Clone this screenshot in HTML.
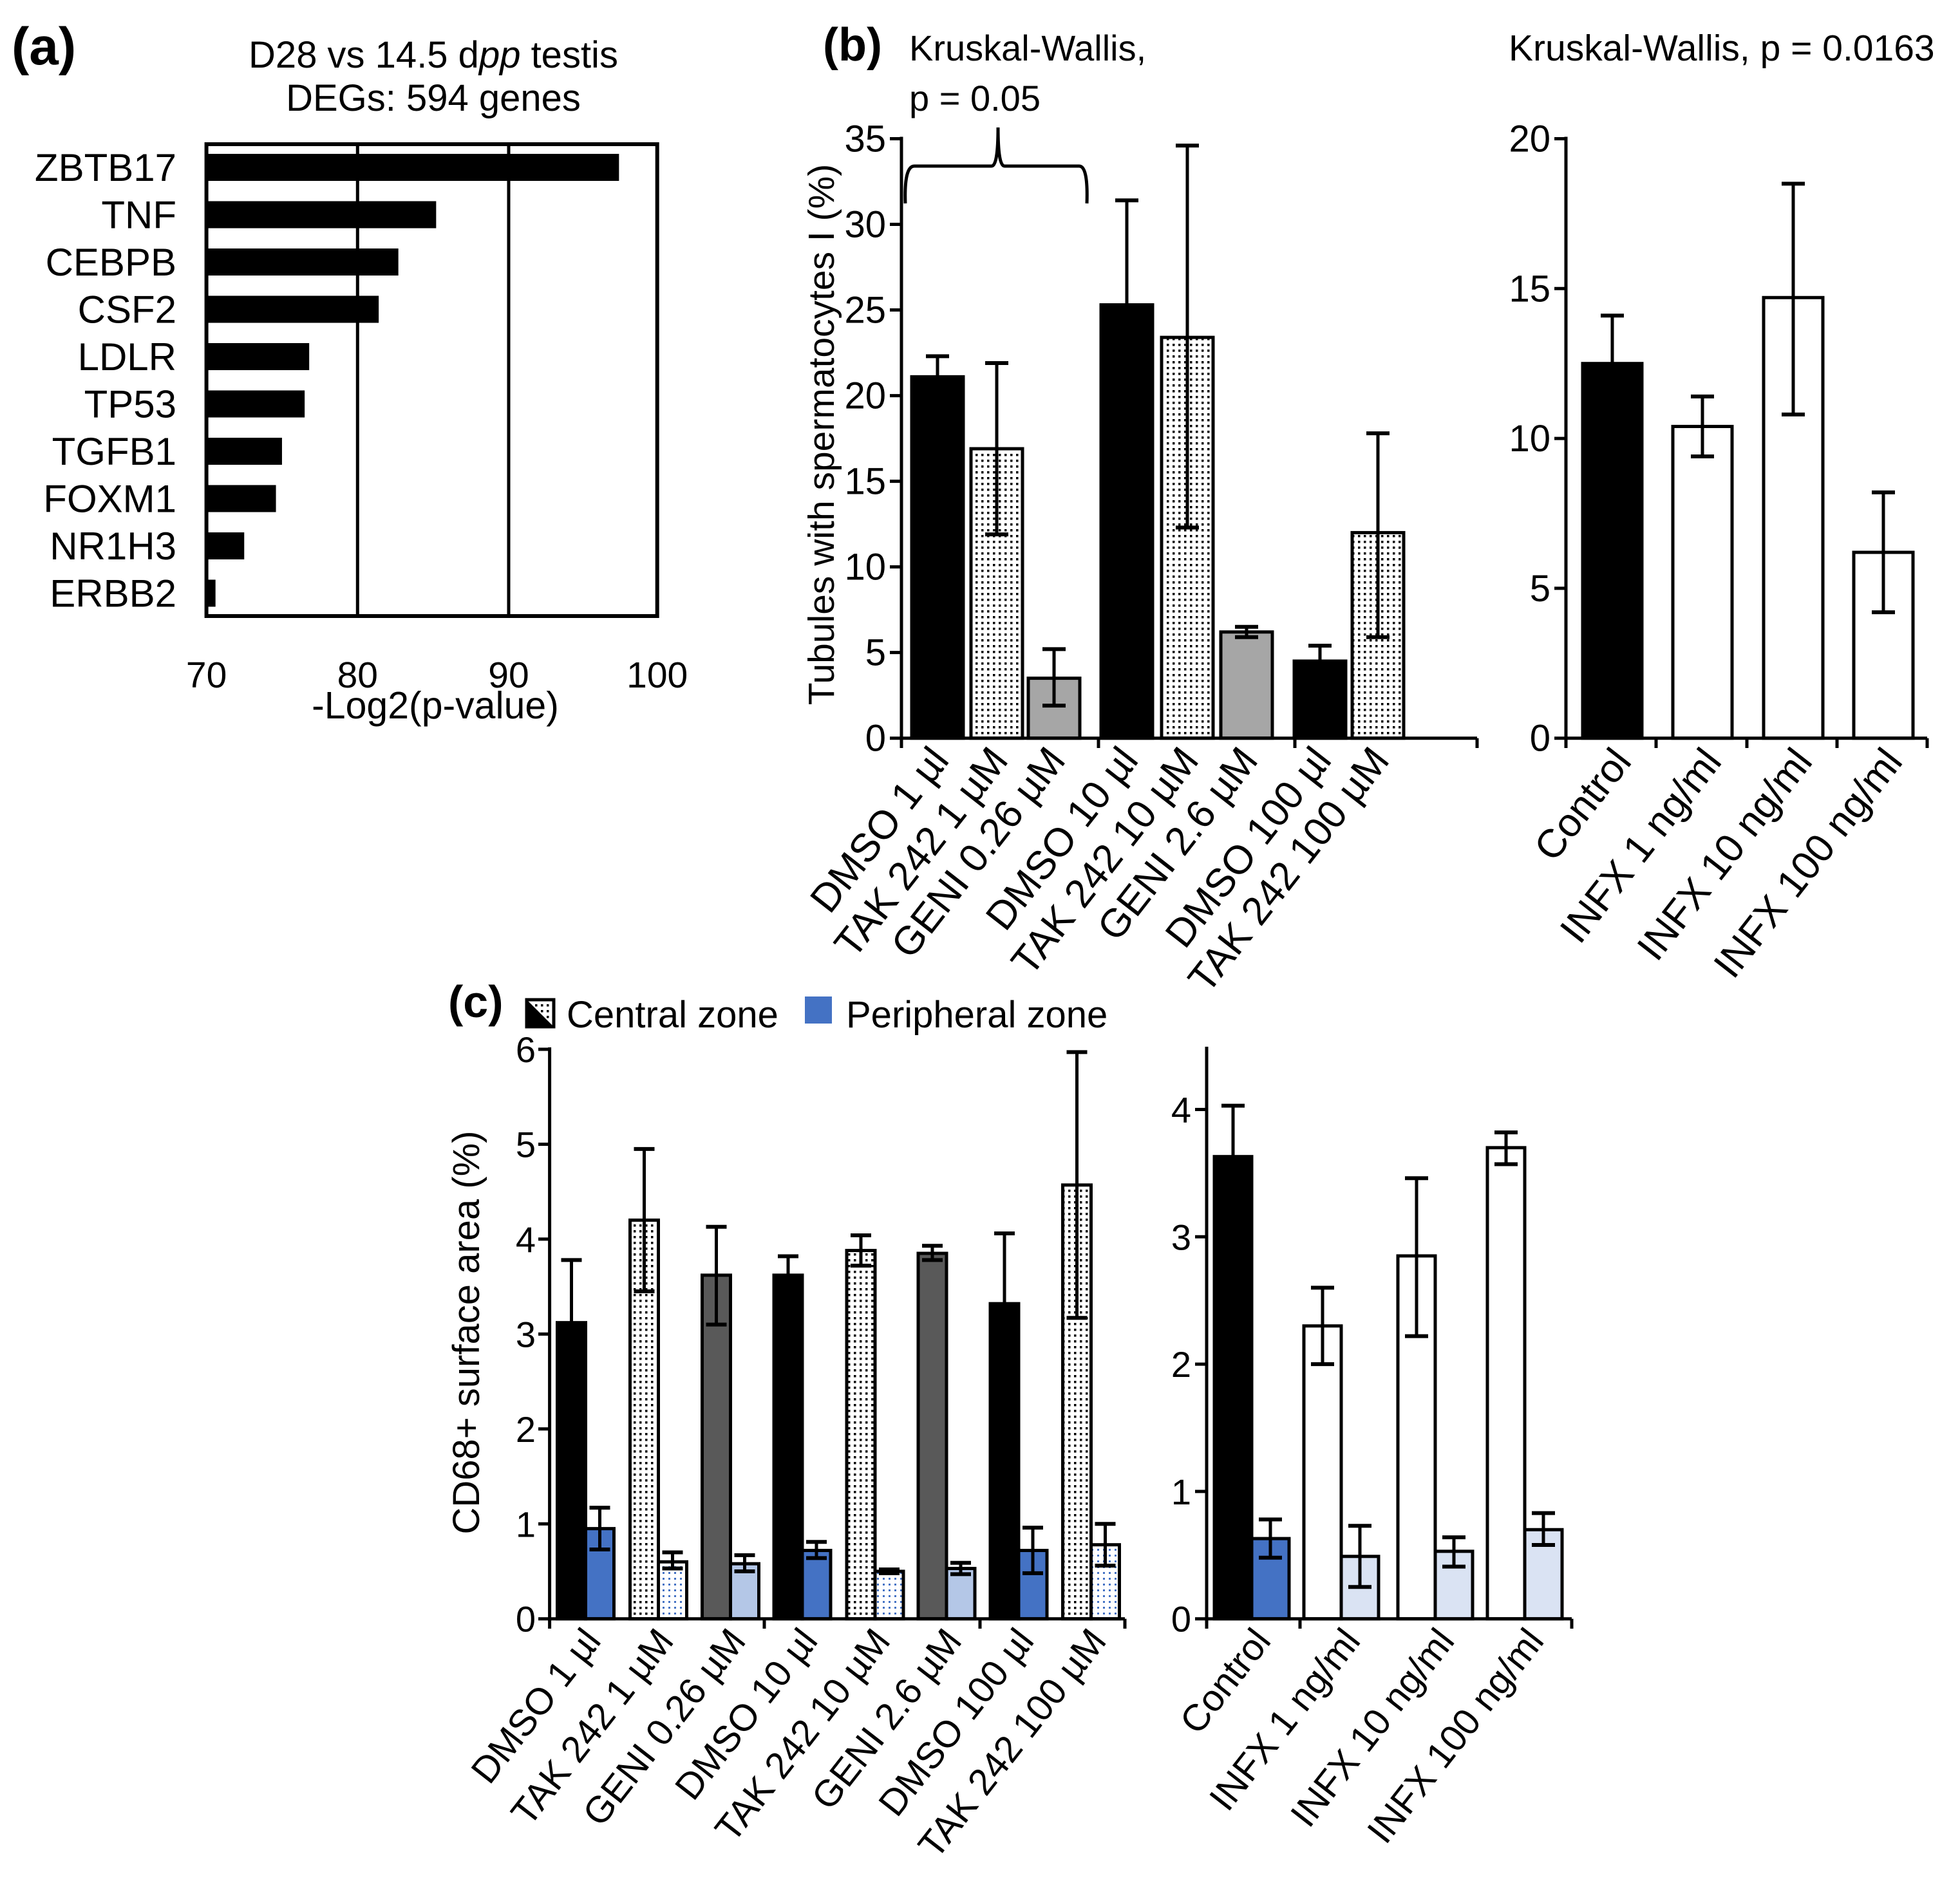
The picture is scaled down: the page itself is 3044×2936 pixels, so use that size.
<!DOCTYPE html>
<html><head><meta charset="utf-8">
<style>
html,body{margin:0;padding:0;background:#fff;}
svg{display:block;}
text{font-family:"Liberation Sans",sans-serif;fill:#000;}
.n{font-family:"Liberation Sans Narrow","Liberation Sans",sans-serif;}
</style></head>
<body>
<svg id="fig" xmlns="http://www.w3.org/2000/svg" width="3044" height="2936" viewBox="0 0 3044 2936">
<defs>
<pattern id="dots" width="9" height="9" patternUnits="userSpaceOnUse"><rect width="9" height="9" fill="#fff"/><rect x="3" y="3" width="3.5" height="3.5" fill="#000"/></pattern>
<pattern id="bdots" width="9" height="9" patternUnits="userSpaceOnUse"><rect width="9" height="9" fill="#fff"/><rect x="3" y="3" width="3" height="3" fill="#4472c4"/></pattern>
</defs>
<g id="root"></g>
</svg>
<script>
// ---- data panel (a)
const aGenes=["ZBTB17","TNF","CEBPB","CSF2","LDLR","TP53","TGFB1","FOXM1","NR1H3","ERBB2"];
const aValues=[97.3,85.2,82.7,81.4,76.8,76.5,75.0,74.6,72.5,70.6];
const aTicks=[70,80,90,100];
// ---- panel (b) left
const bCats=["DMSO 1 µl","TAK 242 1 µM","GENI 0.26 µM","DMSO 10 µl","TAK 242 10 µM","GENI 2.6 µM","DMSO 100 µl","TAK 242 100 µM"];
const bVals=[21.1,16.9,3.5,25.3,23.4,6.2,4.5,12.0];
const bLo=[19.9,11.9,1.9,19.2,12.3,5.9,3.6,5.9];
const bHi=[22.3,21.9,5.2,31.4,34.6,6.5,5.4,17.8];
const bTicks=[0,5,10,15,20,25,30,35];
// ---- panel (b) right
const brCats=["Control","INFX 1 ng/ml","INFX 10 ng/ml","INFX 100 ng/ml"];
const brVals=[12.5,10.4,14.7,6.2];
const brLo=[10.9,9.4,10.8,4.2];
const brHi=[14.1,11.4,18.5,8.2];
const brTicks=[0,5,10,15,20];
// ---- panel (c) left
const cCats=["DMSO 1 µl","TAK 242 1 µM","GENI 0.26 µM","DMSO 10 µl","TAK 242 10 µM","GENI 2.6 µM","DMSO 100 µl","TAK 242 100 µM"];
const cCentral=[3.12,4.2,3.62,3.62,3.88,3.85,3.32,4.57];
const cCentralLo=[2.46,3.45,3.1,3.42,3.72,3.78,2.58,3.17];
const cCentralHi=[3.78,4.95,4.13,3.82,4.04,3.93,4.06,5.97];
const cPeriph=[0.95,0.6,0.58,0.72,0.5,0.53,0.72,0.78];
const cPeriphLo=[0.73,0.53,0.5,0.64,0.48,0.47,0.48,0.56];
const cPeriphHi=[1.17,0.7,0.67,0.81,0.52,0.59,0.96,1.0];
const cTicks=[0,1,2,3,4,5,6];
// ---- panel (c) right
const crCats=["Control","INFX 1 ng/ml","INFX 10 ng/ml","INFX 100 ng/ml"];
const crCentral=[3.63,2.3,2.85,3.7];
const crCentralLo=[3.23,2.0,2.22,3.57];
const crCentralHi=[4.03,2.6,3.46,3.82];
const crPeriph=[0.63,0.49,0.53,0.7];
const crPeriphLo=[0.48,0.25,0.41,0.58];
const crPeriphHi=[0.78,0.73,0.64,0.83];
const crTicks=[0,1,2,3,4];

const NS="http://www.w3.org/2000/svg";
const root=document.getElementById('root');
function mk(tag,attrs,parent,txt){const e=document.createElementNS(NS,tag);for(const k in attrs)e.setAttribute(k,attrs[k]);if(txt!==undefined)e.textContent=txt;(parent||root).appendChild(e);return e;}
function line(x1,y1,x2,y2,w,p){return mk('line',{x1,y1,x2,y2,stroke:'#000','stroke-width':w||5},p);}
function errbar(g,cx,ylo,yhi,cap){line(cx,ylo,cx,yhi,5,g);line(cx-cap,yhi,cx+cap,yhi,6,g);line(cx-cap,ylo,cx+cap,ylo,6,g);}

// ================= Panel a
(function(){
 const g=mk('g',{});
 
 
 const x=v=>320.6+(v-70)*23.47;
 let t=mk('text',{x:18,y:100,'font-size':82,'font-weight':'bold'},g,'(a)');
 
 t=mk('text',{x:673,y:105,'font-size':58,'text-anchor':'middle'},g);
 
 t.innerHTML='D28 vs 14.5 d<tspan font-style="italic">pp</tspan> testis';
 t=mk('text',{x:673,y:172,'font-size':58,'text-anchor':'middle'},g,'DEGs: 594 genes');
 
 aValues.forEach((v,i)=>{
   const cy=260+i*73.5;
   const r=mk('rect',{x:x(70),y:cy-21,width:x(v)-x(70),height:42,fill:'#000'},g);
   
   const l=mk('text',{x:274,y:cy+21,'font-size':60,'text-anchor':'end'},g,aGenes[i]);
   
 });
 [80,90].forEach(v=>line(x(v),224,x(v),957,5,g));
 const b=mk('rect',{x:320.6,y:224,width:x(100)-4-320.6,height:733,fill:'none',stroke:'#000','stroke-width':6},g);
 
 aTicks.forEach(v=>{const tl=mk('text',{x:x(v)+(v===100?-4:0),y:1068,'font-size':57,'text-anchor':'middle'},g,String(v));
   });
 t=mk('text',{x:676,y:1116,'font-size':59,'text-anchor':'middle'},g,'-Log2(p-value)');
 
})();

// ================= Panel b left
(function(){
 const g=mk('g',{});
 
 
 const y0=1146.7,per=(1146.7-215.5)/35;const y=v=>y0-v*per;
 const centers=[1456,1548,1637,1750,1844,1936,2050,2140];const w=80;
 const fills=['#000','url(#dots)','#a6a6a6','#000','url(#dots)','#a6a6a6','#000','url(#dots)'];
 let t=mk('text',{x:1278,y:94,'font-size':72,'font-weight':'bold'},g,'(b)');
 
 t=mk('text',{x:1412,y:94,'font-size':56,'class':'n'},g,'Kruskal-Wallis,');
 
 t=mk('text',{x:1412,y:172,'font-size':56,'class':'n'},g,'p = 0.05');
 
 const br=mk('path',{d:'M1406,316 Q1404,258 1420,258 L1540,258 Q1550,258 1550,198 Q1550,258 1560,258 L1676,258 Q1690,258 1688,316',fill:'none',stroke:'#000','stroke-width':5},g);
 
 bVals.forEach((v,i)=>{
   const r=mk('rect',{x:centers[i]-w/2,y:y(v),width:w,height:y0-y(v),fill:fills[i],stroke:'#000','stroke-width':5},g);
   
   errbar(g,centers[i],y(bLo[i]),y(bHi[i]),18);
   const l=mk('text',{x:centers[i]+20,y:1182,'font-size':62,'class':'n','text-anchor':'end',transform:`rotate(-52 ${centers[i]+20} 1182)`},g,bCats[i]);
   
 });
 line(1400,y(35)-3,1400,y0+3,5,g);
 line(1400,y0,2294,y0,5,g);
 [1400,1706,2011,2294].forEach(x=>line(x,y0,x,1162,5,g));
 bTicks.forEach(v=>{line(1382,y(v),1400,y(v),5,g);
   const tl=mk('text',{x:1376,y:y(v)+20,'font-size':58,'class':'n','text-anchor':'end'},g,String(v));
   });
 t=mk('text',{x:0,y:0,'font-size':57,'text-anchor':'middle','class':'n',transform:'translate(1295,675) rotate(-90)'},g,'Tubules with spermatocytes I (%)');
 
})();

// ================= Panel b right
(function(){
 const g=mk('g',{});
 
 
 const y0=1146.7,per=(1146.7-215.5)/20;const y=v=>y0-v*per;
 const centers=[2504,2644,2785,2925];const w=92;
 const fills=['#000','#fff','#fff','#fff'];
 let t=mk('text',{x:2343,y:94,'font-size':57,'class':'n'},g,'Kruskal-Wallis, p = 0.0163');
 
 brVals.forEach((v,i)=>{
   const r=mk('rect',{x:centers[i]-w/2,y:y(v),width:w,height:y0-y(v),fill:fills[i],stroke:'#000','stroke-width':5},g);
   
   errbar(g,centers[i],y(brLo[i]),y(brHi[i]),18);
   const l=mk('text',{x:centers[i]+32,y:1184,'font-size':62,'class':'n','text-anchor':'end',transform:`rotate(-52 ${centers[i]+32} 1184)`},g,brCats[i]);
   
 });
 line(2432,y(20)-3,2432,y0+3,5,g);
 line(2432,y0,2993,y0,5,g);
 [2432,2572,2713,2853,2993].forEach(x=>line(x,y0,x,1162,5,g));
 brTicks.forEach(v=>{line(2414,y(v),2432,y(v),5,g);
   const tl=mk('text',{x:2408,y:y(v)+20,'font-size':58,'class':'n','text-anchor':'end'},g,String(v));
   });
})();

// ================= Panel c legend
(function(){
 const g=mk('g',{});
 
 
 let t=mk('text',{x:696,y:1580,'font-size':70,'font-weight':'bold'},g,'(c)');
 
 const sw=mk('rect',{x:818,y:1553,width:42,height:42,fill:'url(#dots)',stroke:'#000','stroke-width':5},g);
 
 mk('path',{d:'M818,1553 L860,1595 L818,1595 Z',fill:'#000'},g);
 t=mk('text',{x:880,y:1596,'font-size':58},g,'Central zone');
 
 const s2=mk('rect',{x:1250,y:1548,width:42,height:42,fill:'#4472c4'},g);
 
 t=mk('text',{x:1314,y:1596,'font-size':58},g,'Peripheral zone');
 
})();

// ================= Panel c left
(function(){
 const g=mk('g',{});
 
 
 const y0=2514.7,per=(2514.7-1630)/6;const y=v=>y0-v*per;
 const centers=[909.5,1022.5,1134.5,1246,1359,1470,1582,1694.5];const w=44;
 const cf=['#000','url(#dots)','#595959','#000','url(#dots)','#595959','#000','url(#dots)'];
 const pf=['#4472c4','url(#bdots)','#b4c7e7','#4472c4','url(#bdots)','#b4c7e7','#4472c4','url(#bdots)'];
 cCentral.forEach((v,i)=>{
   const cx=centers[i]-w/2;
   const r=mk('rect',{x:cx-w/2,y:y(v),width:w,height:y0-y(v),fill:cf[i],stroke:'#000','stroke-width':5},g);
   
   errbar(g,cx,y(cCentralLo[i]),y(cCentralHi[i]),16);
   const px=centers[i]+w/2;
   const p=mk('rect',{x:px-w/2,y:y(cPeriph[i]),width:w,height:y0-y(cPeriph[i]),fill:pf[i],stroke:'#000','stroke-width':5},g);
   
   errbar(g,px,y(cPeriphLo[i]),y(cPeriphHi[i]),16);
   const l=mk('text',{x:centers[i]+26,y:2550,'font-size':58,'text-anchor':'end',transform:`rotate(-52 ${centers[i]+26} 2550)`},g,cCats[i]);
   
 });
 line(853.6,y(6)-3,853.6,y0+3,5,g);
 line(853.6,y0,1747,y0,5,g);
 [853.6,1187,1522,1747].forEach(x=>line(x,y0,x,2530,5,g));
 cTicks.forEach(v=>{line(836,y(v),853.6,y(v),5,g);
   const tl=mk('text',{x:832,y:y(v)+20,'font-size':56,'class':'n','text-anchor':'end'},g,String(v));
   });
 const t=mk('text',{x:0,y:0,'font-size':58,'text-anchor':'middle',transform:'translate(744,2070) rotate(-90)'},g,'CD68+ surface area (%)');
 
})();

// ================= Panel c right
(function(){
 const g=mk('g',{});
 
 
 const y0=2514.7,per=(2514.7-1723.5)/4;const y=v=>y0-v*per;
 const centers=[1944,2083,2229,2368];const w=58;
 const cf=['#000','#fff','#fff','#fff'];
 const pf=['#4472c4','#dae3f3','#dae3f3','#dae3f3'];
 crCentral.forEach((v,i)=>{
   const cx=centers[i]-w/2;
   const r=mk('rect',{x:cx-w/2,y:y(v),width:w,height:y0-y(v),fill:cf[i],stroke:'#000','stroke-width':5},g);
   
   errbar(g,cx,y(crCentralLo[i]),y(crCentralHi[i]),18);
   const px=centers[i]+w/2;
   const p=mk('rect',{x:px-w/2,y:y(crPeriph[i]),width:w,height:y0-y(crPeriph[i]),fill:pf[i],stroke:'#000','stroke-width':5},g);
   
   errbar(g,px,y(crPeriphLo[i]),y(crPeriphHi[i]),18);
   const l=mk('text',{x:centers[i]+32,y:2550,'font-size':58,'text-anchor':'end',transform:`rotate(-52 ${centers[i]+32} 2550)`},g,crCats[i]);
   
 });
 line(1874,1626,1874,y0+3,5,g);
 line(1874,y0,2441,y0,5,g);
 [1874,2019,2441].forEach(x=>line(x,y0,x,2530,5,g));
 crTicks.forEach(v=>{line(1856,y(v),1874,y(v),5,g);
   const tl=mk('text',{x:1850,y:y(v)+20,'font-size':56,'class':'n','text-anchor':'end'},g,String(v));
   });
})();
</script>
</body></html>
